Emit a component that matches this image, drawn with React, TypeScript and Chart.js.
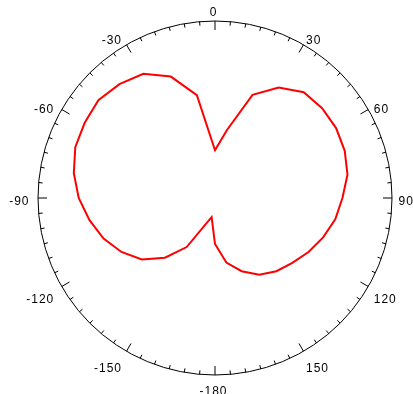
import React, { useEffect, useRef } from 'react';
import { Chart, registerables } from 'chart.js';

Chart.register(...registerables);

// Angles (degrees, clockwise from top) at which the pattern was sampled
const angles = [0, 10, 20, 30, 40, 50, 60, 70, 80, 90, 100, 110, 120, 130, 140, 150, 160, 170,
  180, 190, 200, 210, 220, 230, 240, 250, 260, 270, 280, 290, 300, 310, 320, 330, 340, 350];
// Radial values (fraction of the outer circle)
const radius = [0.27, 0.39, 0.62, 0.72, 0.78, 0.79, 0.79, 0.78, 0.76, 0.72, 0.69, 0.65, 0.61, 0.57,
  0.54, 0.50, 0.44, 0.37, 0.26, 0.11, 0.16, 0.32, 0.44, 0.54, 0.61, 0.67, 0.72, 0.77, 0.81, 0.84,
  0.85, 0.86, 0.84, 0.81, 0.73, 0.59];
// Angle tick labels around the rim
const labelAngles = [0, 30, 60, 90, 120, 150, 180, 210, 240, 270, 300, 330];
const labelTexts = ['0', '30', '60', '90', '120', '150', '-180', '-150', '-120', '-90', '-60', '-30'];
const minorStep = 5;
const majorStep = 30;

const categoryLabels = angles.map((a) => (a === 180 ? '-180' : a > 180 ? String(a - 360) : String(a)));

const rimPlugin = {
  id: 'rim',
  afterDraw(chart: any) {
    const s = chart.scales.r;
    const ctx = chart.ctx as CanvasRenderingContext2D;
    const cx = s.xCenter;
    const cy = s.yCenter;
    const R = s.drawingArea;
    ctx.save();
    ctx.strokeStyle = '#000';
    ctx.lineWidth = 1;
    for (let d = 0; d < 360; d += minorStep) {
      const th = (d * Math.PI) / 180;
      const sx = Math.sin(th);
      const sy = -Math.cos(th);
      const len = d % majorStep === 0 ? 9 : 4;
      ctx.beginPath();
      ctx.moveTo(cx + sx * R, cy + sy * R);
      ctx.lineTo(cx + sx * (R - len), cy + sy * (R - len));
      ctx.stroke();
    }
    ctx.fillStyle = '#000';
    ctx.font = '12px "Liberation Sans", Arial, sans-serif';
    (ctx as any).letterSpacing = '1px';
    ctx.textBaseline = 'middle';
    const h = 8.5;
    const gap = 8;
    labelAngles.forEach((d, i) => {
      const t = labelTexts[i];
      const th = (d * Math.PI) / 180;
      const sx = Math.sin(th);
      const sy = -Math.cos(th);
      ctx.textAlign = sx > 0.01 ? 'left' : sx < -0.01 ? 'right' : 'center';
      const x = cx + sx * (R + gap) - 1.5 + (sx < -0.01 ? 1 : 0);
      const y = cy + sy * (R + gap) + sy * (h / 2) + 4 + 6 * Math.abs(sx * sy);
      ctx.fillText(t, x, y);
    });
    ctx.restore();
  },
};

export default function App() {
  const ref = useRef<HTMLCanvasElement>(null);
  useEffect(() => {
    if (!ref.current) return;
    const chart = new Chart(ref.current, {
      type: 'radar',
      data: {
        labels: categoryLabels,
        datasets: [
          {
            data: radius,
            borderColor: '#ff0000',
            borderWidth: 2,
            pointRadius: 0,
            fill: false,
            tension: 0,
          },
        ],
      },
      options: {
        responsive: false,
        animation: false,
        layout: { padding: { left: 38, right: 21, top: 21, bottom: 19 } },
        plugins: { legend: { display: false }, tooltip: { enabled: false } },
        scales: {
          r: {
            min: 0,
            max: 1,
            ticks: { display: false, stepSize: 1 },
            pointLabels: { display: false },
            angleLines: { display: false },
            grid: { circular: true, color: '#000', lineWidth: 1 },
          },
        },
      },
      plugins: [rimPlugin],
    });
    return () => chart.destroy();
  }, []);
  return (
    <div style={{ position: 'absolute', left: 0, top: 0, width: 413, height: 394, background: '#fff' }}>
      <canvas ref={ref} width={413} height={394} />
    </div>
  );
}
